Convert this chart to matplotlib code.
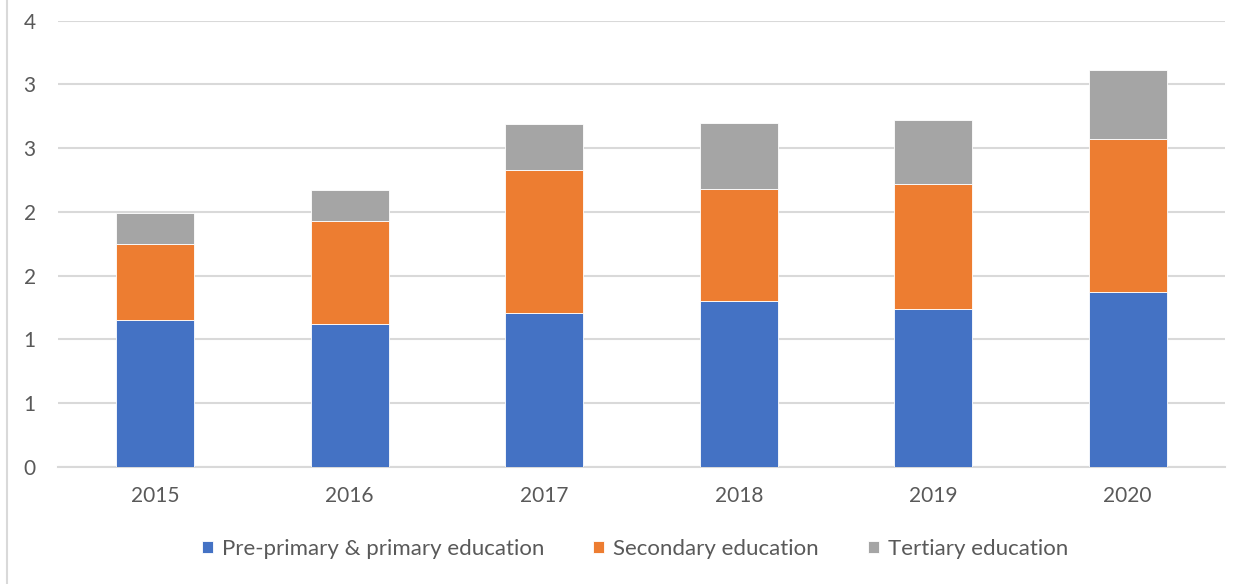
import matplotlib
matplotlib.use("Agg")
import matplotlib.pyplot as plt
from matplotlib.lines import Line2D
import numpy as np

years = ["2015", "2016", "2017", "2018", "2019", "2020"]
primary = [1.15, 1.12, 1.21, 1.30, 1.24, 1.37]
secondary = [0.60, 0.81, 1.12, 0.88, 0.98, 1.20]
tertiary = [0.24, 0.24, 0.36, 0.52, 0.50, 0.54]
series_names = ["Pre-primary & primary education", "Secondary education", "Tertiary education"]
y_ticks = [0, 0.5, 1.0, 1.5, 2.0, 2.5, 3.0, 3.5]
y_tick_labels = ["0", "1", "1", "2", "2", "3", "3", "4"]

colors = ["#4472C4", "#ED7D31", "#A5A5A5"]
text_color = "#595959"
grid_color = "#D9D9D9"

plt.rcParams["font.family"] = ["Lato", "DejaVu Sans"]

W, H = 1248, 584
fig = plt.figure(figsize=(W / 100, H / 100), dpi=100)
ax = fig.add_axes([58 / W, 1 - 466.7 / H, 1167 / W, (466.7 - 20.7) / H])

x = np.arange(len(years))
bottom = np.zeros(len(years))
handles = []
for vals, col, name in zip([primary, secondary, tertiary], colors, series_names):
    b = ax.bar(x, vals, width=0.4, bottom=bottom, color=col,
               edgecolor="white", linewidth=0.6, label=name, zorder=3)
    bottom += np.array(vals)
    handles.append(b)

ax.set_xlim(-0.5, len(years) - 0.5)
ax.set_ylim(0, 3.5)
ax.set_yticks(y_ticks)
ax.set_yticklabels(y_tick_labels)
ax.set_xticks(x)
ax.set_xticklabels(years)
ax.yaxis.grid(True, color=grid_color, linewidth=1.5, zorder=0)
ax.set_axisbelow(True)
for s in ["top", "right", "left"]:
    ax.spines[s].set_visible(False)
ax.spines["bottom"].set_color(grid_color)
ax.spines["bottom"].set_linewidth(1.5)
ax.tick_params(axis="both", length=0, labelsize=15, colors=text_color)
ax.tick_params(axis="y", pad=16)
ax.tick_params(axis="x", pad=14)

leg = fig.legend(handles=handles, labels=series_names, loc="center",
                 bbox_to_anchor=(635 / W, 1 - 549 / H), ncol=3, frameon=False,
                 fontsize=16, handlelength=0.5, handleheight=0.5,
                 handletextpad=0.4, columnspacing=2.2)
for t in leg.get_texts():
    t.set_color(text_color)

# left frame edge of the chart area
fig.add_artist(Line2D([7 / W, 7 / W], [0, 1], transform=fig.transFigure,
                      color=grid_color, linewidth=1.5))

fig.savefig("out.png", dpi=100, facecolor="white")
